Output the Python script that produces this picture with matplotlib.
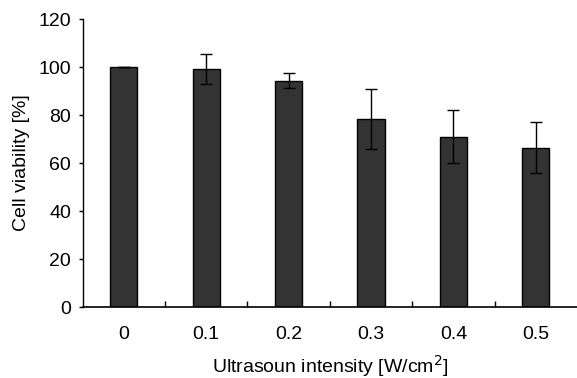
import numpy as np
import matplotlib
matplotlib.use("Agg")
from matplotlib import pyplot as plt

plt.rcParams['font.family'] = ['Liberation Sans', 'DejaVu Sans']

# data
intensity = ['0', '0.1', '0.2', '0.3', '0.4', '0.5']
viability = [100.0, 99.3, 94.3, 78.3, 71.0, 66.4]
sd = [0.0, 6.3, 3.2, 12.5, 11.2, 10.6]

fig = plt.figure(figsize=(5.77, 3.78), dpi=100)
ax = fig.add_axes([0.1433, 0.1878, 0.8567, 0.7619])

x = np.arange(len(intensity))
ax.bar(x, viability, width=0.33, color='#333333', edgecolor='black', linewidth=1.0, zorder=2)
ax.errorbar(x, viability, yerr=sd, fmt='none', ecolor='black', elinewidth=1.0,
            capsize=4, capthick=1.0, zorder=3)

ax.set_xlim(-0.5, len(intensity) - 0.5)
ax.set_ylim(0, 120)
ax.set_yticks(np.arange(0, 121, 20))

# category labels, tick marks only between categories
ax.set_xticks(x)
ax.set_xticklabels(intensity)
ax.set_xticks(x[:-1] + 0.5, minor=True)
ax.tick_params(axis='x', which='major', length=0, pad=14, labelsize=14)
ax.tick_params(axis='x', which='minor', direction='in', length=4.5, width=1.0)
ax.tick_params(axis='y', direction='out', length=3, width=1.0, pad=5.5, labelsize=14)

for s in ['top', 'right']:
    ax.spines[s].set_visible(False)
ax.spines['left'].set_linewidth(1.0)
ax.spines['bottom'].set_linewidth(1.2)

ax.set_ylabel('Cell viability [%]', fontsize=14, labelpad=6)
ax.set_xlabel('Ultrasoun intensity [W/cm$^2$]', fontsize=14, labelpad=7)

fig.savefig('out.png', dpi=100)
